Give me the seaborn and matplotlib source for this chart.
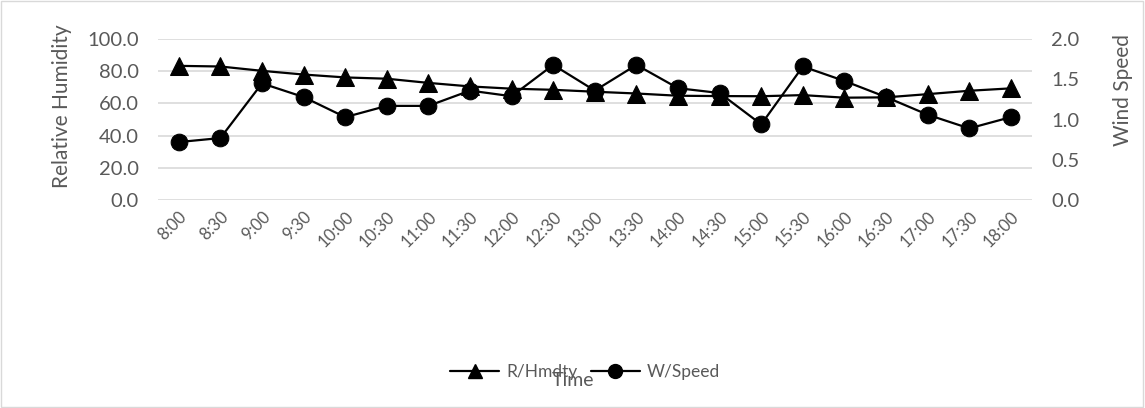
import pandas as pd
import matplotlib.pyplot as plt
import matplotlib.patches as mpatches
from matplotlib.lines import Line2D
from matplotlib.ticker import FormatStrFormatter, MultipleLocator
import seaborn as sns

# data
times = ['8:00', '8:30', '9:00', '9:30', '10:00', '10:30', '11:00', '11:30',
         '12:00', '12:30', '13:00', '13:30', '14:00', '14:30', '15:00', '15:30',
         '16:00', '16:30', '17:00', '17:30', '18:00']
humidity = [83.4, 83.0, 80.3, 78.0, 76.2, 75.4, 72.8, 70.6, 69.2, 68.5, 67.3,
            66.2, 64.8, 64.6, 64.5, 65.2, 63.6, 63.8, 65.8, 67.9, 69.4]
wind = [0.72, 0.77, 1.45, 1.28, 1.03, 1.17, 1.17, 1.36, 1.29, 1.68, 1.36,
        1.68, 1.39, 1.33, 0.94, 1.66, 1.48, 1.28, 1.06, 0.89, 1.03]

df = pd.DataFrame({'Time': times, 'R/Hmdty': humidity, 'W/Speed': wind})
df['pos'] = range(len(df))

sns.set_style('white')
plt.rcParams['font.family'] = ['Lato', 'DejaVu Sans']
grey = '#595959'

fig = plt.figure(figsize=(11.45, 4.08), dpi=100)
ax = fig.add_axes([0.138, 0.51, 0.763, 0.394])
ax2 = ax.twinx()

# humidity on the left axis, wind speed on the right one
sns.lineplot(data=df, x='pos', y='R/Hmdty', ax=ax, color='black', lw=1.6,
             marker='^', markersize=13, markeredgecolor='black', zorder=3)
sns.lineplot(data=df, x='pos', y='W/Speed', ax=ax2, color='black', lw=1.6,
             marker='o', markersize=12, markeredgecolor='black', zorder=3)

ax.set_ylim(0, 100)
ax2.set_ylim(0, 2)
ax.set_xlim(-0.5, len(times) - 0.5)
ax.yaxis.set_major_locator(MultipleLocator(20))
ax2.yaxis.set_major_locator(MultipleLocator(0.5))
ax.yaxis.set_major_formatter(FormatStrFormatter('%.1f'))
ax2.yaxis.set_major_formatter(FormatStrFormatter('%.1f'))

ax.grid(axis='y', color='#d9d9d9', lw=1.2)
ax.set_axisbelow(True)
ax.set_xticks(df['pos'])
ax.set_xticklabels(times, rotation=45, ha='right', rotation_mode='anchor',
                   fontsize=12, color=grey)
ax.tick_params(axis='y', length=0, pad=14, labelsize=14.5, labelcolor=grey)
ax.tick_params(axis='x', length=0, pad=6, labelsize=12, labelcolor=grey)
ax2.tick_params(axis='y', length=0, pad=14, labelsize=14.5, labelcolor=grey)

for a in (ax, ax2):
    for s in a.spines.values():
        s.set_visible(False)

ax.set_xlabel('')
ax.set_ylabel('')
ax2.set_ylabel('')
fig.text(0.054, 0.74, 'Relative Humidity', rotation=90, ha='center',
         va='center', fontsize=15, color=grey)
fig.text(0.981, 0.78, 'Wind Speed', rotation=90, ha='center', va='center',
         fontsize=15, color=grey)

handles = [Line2D([], [], color='black', lw=1.6, marker='^', markersize=10),
           Line2D([], [], color='black', lw=1.6, marker='o', markersize=10)]
fig.legend(handles, ['R/Hmdty', 'W/Speed'], loc='center',
           bbox_to_anchor=(0.511, 0.088), ncol=2, frameon=False,
           handlelength=2.8, handletextpad=0.4, columnspacing=0.8,
           fontsize=12.5, labelcolor=grey)
fig.text(0.5, 0.068, 'Time', ha='center', va='center', fontsize=14,
         color=grey)

fig.patches.append(mpatches.Rectangle((0.001, 0.002), 0.997, 0.995,
                                      transform=fig.transFigure, fill=False,
                                      edgecolor='#d9d9d9', lw=1))

fig.savefig('out.png', dpi=100)
